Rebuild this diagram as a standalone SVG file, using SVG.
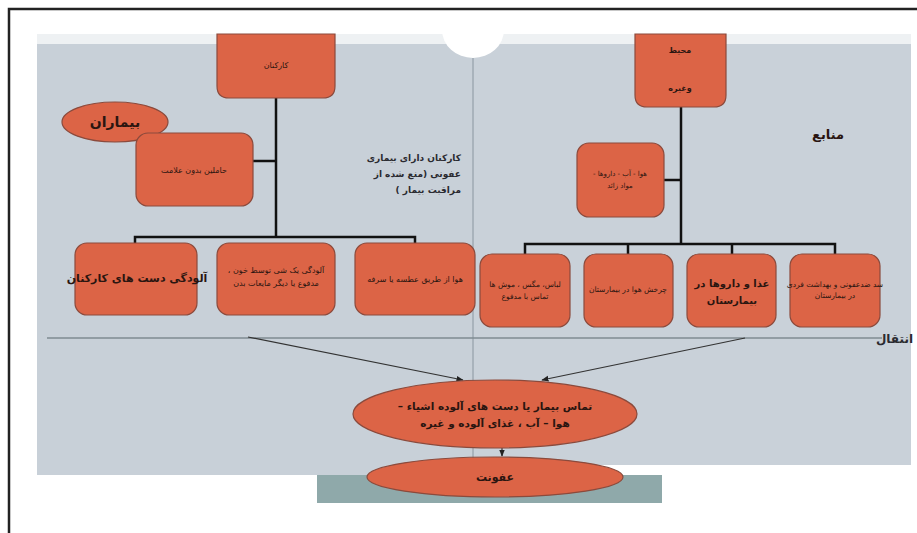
<svg xmlns="http://www.w3.org/2000/svg" width="917" height="533" viewBox="0 0 917 533">
<style>
.n{fill:#dc6446;stroke:#8b4a3c;stroke-width:1.2}
.t{font-family:"DejaVu Sans",sans-serif;fill:#2a1510;text-anchor:middle;direction:rtl}
.r{font-family:"DejaVu Sans",sans-serif;fill:#2a2a30;text-anchor:start;direction:rtl}
.s{font-size:8px}
.b{font-weight:bold}
.c{stroke:#111;stroke-width:2.5;fill:none}
.a{stroke:#333;stroke-width:1.2;fill:none;marker-end:url(#ah)}
</style>
<defs>
<marker id="ah" viewBox="0 0 10 10" refX="9" refY="5" markerWidth="6" markerHeight="6" orient="auto"><path d="M0,1 L10,5 L0,9 z" fill="#222"/></marker>
</defs>
<rect width="917" height="533" fill="#fff"/>
<g id="frame">
<rect x="37" y="34" width="436" height="441" fill="#c8d0d8"/>
<rect x="473" y="34" width="438" height="431" fill="#c9d1d9"/>
<rect x="37" y="34" width="874" height="10" fill="#eef1f3"/>
<rect x="317" y="475" width="345" height="28" fill="#8fa9aa"/>
<ellipse cx="473" cy="30" rx="31" ry="28" fill="#fff"/>
<line x1="473" y1="58" x2="473" y2="465" stroke="#8a96a0" stroke-width="1"/>
<line x1="47" y1="338" x2="882" y2="338" stroke="#7f8b92" stroke-width="1.5"/>
<path d="M9,533 V9 H917" stroke="#222" stroke-width="2.5" fill="none"/>
</g>
<g id="connectors">
<path class="c" d="M276,98 V237"/>
<path class="c" d="M253,161 H276"/>
<path class="c" d="M135,243 V237 H415 V243"/>
<path class="c" d="M681,107 V244"/>
<path class="c" d="M664,180 H681"/>
<path class="c" d="M525,254 V244 H835 V254 M628,244 V254 M732,244 V254"/>
<path class="a" d="M248,337 L463,380"/>
<path class="a" d="M745,338 L542,380"/>
<path class="a" d="M502,444 L502,456"/>
</g>
<g id="n-karkonan"><path class="n" d="M217,34 H335 V86 Q335,98 323,98 H229 Q217,98 217,86 Z"/><text class="t s" x="276" y="68">کارکنان</text></g>
<g id="n-bimaran"><ellipse class="n" cx="115" cy="122" rx="53" ry="20"/><text class="t b" font-size="14" x="115" y="127">بیماران</text></g>
<g id="n-hamelin"><rect class="n" x="136" y="133" width="117" height="73" rx="12"/><text class="t s" x="194" y="173">حاملین بدون علامت</text></g>
<g id="n-note"><text class="r b" font-size="9"><tspan x="461" y="161">کارکنان دارای بیماری</tspan><tspan x="461" dy="16">عفونی (منع شده از</tspan><tspan x="461" dy="16">مراقبت بیمار )</tspan></text></g>
<g id="n-dast"><rect class="n" x="75" y="243" width="122" height="72" rx="12"/><text class="t b" font-size="11" x="137" y="282">آلودگی دست های کارکنان</text></g>
<g id="n-shey"><rect class="n" x="217" y="243" width="118" height="72" rx="12"/><text class="t s"><tspan x="276" y="273">آلودگی یک شی توسط خون ،</tspan><tspan x="276" dy="13">مدفوع یا دیگر مایعات بدن</tspan></text></g>
<g id="n-hava"><rect class="n" x="355" y="243" width="120" height="72" rx="12"/><text class="t s" x="415" y="282">هوا از طریق عطسه یا سرفه</text></g>
<g id="n-mohit"><path class="n" d="M635,34 H726 V95 Q726,107 714,107 H647 Q635,107 635,95 Z"/><text class="t s b"><tspan x="680" y="53">محیط</tspan><tspan x="680" dy="38">وغیره</tspan></text></g>
<g id="n-manabe"><text class="t b" font-size="13" x="828" y="139">منابع</text></g>
<g id="n-ab"><rect class="n" x="577" y="143" width="87" height="74" rx="12"/><text class="t" font-size="7"><tspan x="620" y="176">هوا - آب - داروها -</tspan><tspan x="620" dy="12">مواد زائد</tspan></text></g>
<g id="n-lebas"><rect class="n" x="480" y="254" width="90" height="73" rx="12"/><text class="t" font-size="7.5"><tspan x="525" y="287">لباس، مگس ، موش ها</tspan><tspan x="525" dy="12">تماس با مدفوع</tspan></text></g>
<g id="n-charkhesh"><rect class="n" x="584" y="254" width="89" height="73" rx="12"/><text class="t" font-size="7.5" x="628" y="292">چرخش هوا در بیمارستان</text></g>
<g id="n-ghaza"><rect class="n" x="687" y="254" width="89" height="73" rx="12"/><text class="t b" font-size="10"><tspan x="732" y="287">غذا و داروها در</tspan><tspan x="732" dy="17">بیمارستان</tspan></text></g>
<g id="n-behdasht"><rect class="n" x="790" y="254" width="90" height="73" rx="12"/><text class="t" font-size="7.5"><tspan x="835" y="287">سد ضدعفونی و بهداشت فردی</tspan><tspan x="835" dy="11">در بیمارستان</tspan></text></g>
<g id="n-enteghal"><text class="r b" font-size="12" x="913" y="343">انتقال</text></g>
<g id="n-tamas"><ellipse class="n" cx="495" cy="414" rx="142" ry="34"/><text class="t b" font-size="10.5"><tspan x="495" y="410">تماس بیمار یا دست های آلوده اشیاء –</tspan><tspan x="495" dy="17">هوا – آب ، غذای آلوده و غیره</tspan></text></g>
<g id="n-ofoonat"><ellipse class="n" cx="495" cy="477" rx="128" ry="20"/><text class="t b" font-size="11" x="495" y="481">عفونت</text></g>
</svg>
